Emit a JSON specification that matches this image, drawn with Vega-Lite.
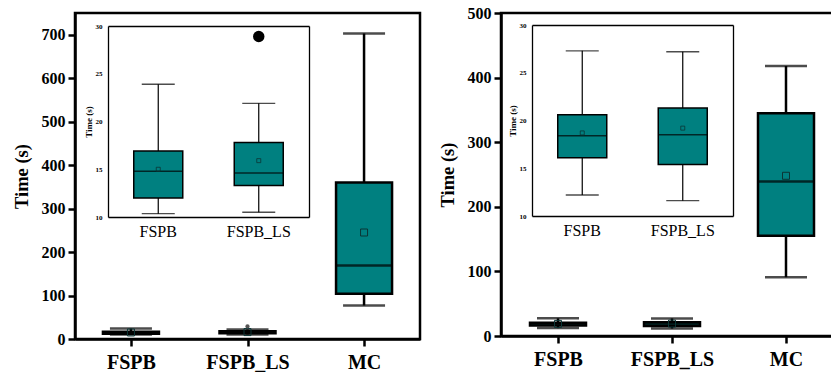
{
  "$schema": "https://vega.github.io/schema/vega-lite/v6.json",
  "background": "white",
  "padding": {"left": 10, "top": 3, "right": 0, "bottom": 0},
  "bounds": "flush",
  "spacing": 81,
  "config": {
    "view": {"stroke": "black", "strokeWidth": 2.5},
    "axis": {"grid": false, "labelColor": "black", "titleColor": "black", "domainColor": "black", "tickColor": "black", "labelFont": "Liberation Serif", "titleFont": "Liberation Serif"},
    "style": {"guide-label": {"font": "Liberation Serif", "fill": "black"}, "guide-title": {"font": "Liberation Serif", "fill": "black"}}
  },
  "datasets": {
    "left": [
      {"method": "FSPB", "min": 10.35, "q1": 12.0, "median": 14.8, "q3": 16.9, "max": 23.9, "mean": 15.0},
      {"method": "FSPB_LS", "min": 10.5, "q1": 13.3, "median": 14.6, "q3": 17.8, "max": 21.9, "mean": 15.9},
      {"method": "MC", "min": 77, "q1": 104, "median": 169, "q3": 360, "max": 703, "mean": 245}
    ],
    "leftOut": [
      {"method": "FSPB_LS", "value": 28.9}
    ],
    "right": [
      {"method": "FSPB", "min": 12.2, "q1": 16.1, "median": 18.4, "q3": 20.6, "max": 27.3, "mean": 18.7},
      {"method": "FSPB_LS", "min": 11.6, "q1": 15.4, "median": 18.5, "q3": 21.3, "max": 27.2, "mean": 19.2},
      {"method": "MC", "min": 91, "q1": 155, "median": 239, "q3": 345, "max": 418, "mean": 248}
    ]
  },
  "hconcat": [
    {
      "width": 345,
      "height": 326,
      "layer": [
        {
          "data": {"name": "left"},
          "layer": [
            {
              "mark": {"type": "rule", "color": "black", "strokeWidth": 2.5},
              "encoding": {
                "x": {"field": "method", "type": "nominal", "scale": {"type": "point", "padding": 0.48, "domain": ["FSPB", "FSPB_LS", "MC"]},
                  "axis": {"title": null, "labelAngle": 0, "labelFont": "Liberation Serif", "labelFontWeight": "bold", "labelFontSize": 20, "labelPadding": 6, "tickSize": 7, "tickWidth": 2.5, "domainWidth": 2.5}},
                "y": {"field": "min", "type": "quantitative", "title": "Time (s)", "scale": {"domain": [0, 750], "nice": false},
                  "axis": {"values": [0, 100, 200, 300, 400, 500, 600, 700], "labelFont": "Liberation Serif", "labelFontWeight": "bold", "labelFontSize": 16, "labelPadding": 3, "tickSize": 7, "tickWidth": 2.5, "domainWidth": 2.5, "titleFont": "Liberation Serif", "titleFontSize": 18.5, "titleFontWeight": "bold", "titlePadding": 10, "labelFlush": false, "labelOverlap": false}},
                "y2": {"field": "max"}
              }
            },
            {
              "mark": {"type": "tick", "color": "black", "size": 42, "thickness": 2.5},
              "encoding": {"x": {"field": "method", "type": "nominal"}, "y": {"field": "min", "type": "quantitative", "title": "Time (s)"}}
            },
            {
              "mark": {"type": "tick", "color": "black", "size": 42, "thickness": 2.5},
              "encoding": {"x": {"field": "method", "type": "nominal"}, "y": {"field": "max", "type": "quantitative", "title": "Time (s)"}}
            },
            {
              "mark": {"type": "bar", "fill": "#008080", "stroke": "black", "strokeWidth": 2.5, "size": 56},
              "encoding": {"x": {"field": "method", "type": "nominal"}, "y": {"field": "q1", "type": "quantitative", "title": "Time (s)"}, "y2": {"field": "q3"}}
            },
            {
              "mark": {"type": "tick", "color": "black", "size": 56, "thickness": 2.5},
              "encoding": {"x": {"field": "method", "type": "nominal"}, "y": {"field": "median", "type": "quantitative", "title": "Time (s)"}}
            },
            {
              "mark": {"type": "point", "shape": "square", "filled": false, "size": 49, "stroke": "#0b3535", "strokeWidth": 1, "opacity": 1},
              "encoding": {"x": {"field": "method", "type": "nominal"}, "y": {"field": "mean", "type": "quantitative", "title": "Time (s)"}}
            },
            {
              "data": {"name": "leftOut"},
              "mark": {"type": "point", "shape": "circle", "filled": true, "size": 18, "color": "#555555", "opacity": 1},
              "encoding": {"x": {"field": "method", "type": "nominal"}, "y": {"field": "value", "type": "quantitative", "title": "Time (s)"}}
            }
          ]
        },
        {
          "data": {"name": "left"},
          "transform": [{"filter": "datum.method !== 'MC'"}],
          "resolve": {"axis": {"x": "independent", "y": "independent"}},
          "layer": [
            {
              "mark": {"type": "rule", "color": "black", "strokeWidth": 1.2},
              "encoding": {
                "x": {"field": "method", "type": "nominal", "scale": {"type": "band", "domain": ["FSPB", "FSPB_LS"], "range": [33, 234], "paddingInner": 0, "paddingOuter": 0},
                  "axis": {"orient": "bottom", "offset": -122, "title": null, "ticks": false, "labelAngle": 0, "labelFont": "Liberation Serif", "labelFontSize": 16, "labelFontWeight": "normal", "labelPadding": 6, "domainWidth": 1.3}},
                "y": {"field": "min", "type": "quantitative", "scale": {"domain": [10, 30], "range": [204, 13], "nice": false, "zero": false},
                  "axis": {"orient": "left", "offset": -33, "title": "Time (s)", "values": [10, 15, 20, 25, 30], "ticks": false, "labelFont": "Liberation Serif", "labelFontSize": 7, "labelFontWeight": "bold", "labelPadding": 6, "titleFont": "Liberation Serif", "titleFontSize": 9, "titleFontWeight": "bold", "titlePadding": 2, "domainWidth": 1.3, "labelFlush": false, "labelOverlap": false}},
                "y2": {"field": "max"}
              }
            },
            {
              "mark": {"type": "tick", "color": "black", "size": 33, "thickness": 1.3},
              "encoding": {
                "x": {"field": "method", "type": "nominal", "axis": {"orient": "top", "offset": -13, "title": null, "labels": false, "ticks": false, "domainWidth": 1.3}},
                "y": {"field": "min", "type": "quantitative", "axis": {"orient": "right", "offset": -111, "title": null, "labels": false, "ticks": false, "domainWidth": 1.3}}
              }
            },
            {
              "mark": {"type": "tick", "color": "black", "size": 33, "thickness": 1.3},
              "encoding": {"x": {"field": "method", "type": "nominal", "axis": null}, "y": {"field": "max", "type": "quantitative", "axis": null}}
            },
            {
              "mark": {"type": "bar", "fill": "#008080", "stroke": "black", "strokeWidth": 1.5, "size": 49},
              "encoding": {"x": {"field": "method", "type": "nominal", "axis": null}, "y": {"field": "q1", "type": "quantitative", "axis": null}, "y2": {"field": "q3"}}
            },
            {
              "mark": {"type": "tick", "color": "black", "size": 49, "thickness": 1.5},
              "encoding": {"x": {"field": "method", "type": "nominal", "axis": null}, "y": {"field": "median", "type": "quantitative", "axis": null}}
            },
            {
              "mark": {"type": "point", "shape": "square", "filled": false, "size": 16, "stroke": "#0b3535", "strokeWidth": 0.8, "opacity": 1},
              "encoding": {"x": {"field": "method", "type": "nominal", "axis": null}, "y": {"field": "mean", "type": "quantitative", "axis": null}}
            },
            {
              "data": {"name": "leftOut"},
              "mark": {"type": "point", "shape": "circle", "filled": true, "size": 130, "color": "black", "opacity": 1},
              "encoding": {"x": {"field": "method", "type": "nominal", "axis": null}, "y": {"field": "value", "type": "quantitative", "axis": null}}
            }
          ]
        }
      ],
      "resolve": {"scale": {"x": "independent", "y": "independent"}}
    },
    {
      "width": 342,
      "height": 323,
      "layer": [
        {
          "data": {"name": "right"},
          "layer": [
            {
              "mark": {"type": "rule", "color": "black", "strokeWidth": 2.5},
              "encoding": {
                "x": {"field": "method", "type": "nominal", "scale": {"type": "point", "padding": 0.5, "domain": ["FSPB", "FSPB_LS", "MC"]},
                  "axis": {"title": null, "labelAngle": 0, "labelFont": "Liberation Serif", "labelFontWeight": "bold", "labelFontSize": 20, "labelPadding": 6, "tickSize": 7, "tickWidth": 2.5, "domainWidth": 2.5}},
                "y": {"field": "min", "type": "quantitative", "title": "Time (s)", "scale": {"domain": [0, 500], "nice": false},
                  "axis": {"values": [0, 100, 200, 300, 400, 500], "labelFont": "Liberation Serif", "labelFontWeight": "bold", "labelFontSize": 16, "labelPadding": 3, "tickSize": 7, "tickWidth": 2.5, "domainWidth": 2.5, "titleFont": "Liberation Serif", "titleFontSize": 18.5, "titleFontWeight": "bold", "titlePadding": 10, "labelFlush": false, "labelOverlap": false}},
                "y2": {"field": "max"}
              }
            },
            {
              "mark": {"type": "tick", "color": "black", "size": 42, "thickness": 2.5},
              "encoding": {"x": {"field": "method", "type": "nominal"}, "y": {"field": "min", "type": "quantitative", "title": "Time (s)"}}
            },
            {
              "mark": {"type": "tick", "color": "black", "size": 42, "thickness": 2.5},
              "encoding": {"x": {"field": "method", "type": "nominal"}, "y": {"field": "max", "type": "quantitative", "title": "Time (s)"}}
            },
            {
              "mark": {"type": "bar", "fill": "#008080", "stroke": "black", "strokeWidth": 2.5, "size": 56},
              "encoding": {"x": {"field": "method", "type": "nominal"}, "y": {"field": "q1", "type": "quantitative", "title": "Time (s)"}, "y2": {"field": "q3"}}
            },
            {
              "mark": {"type": "tick", "color": "black", "size": 56, "thickness": 2.5},
              "encoding": {"x": {"field": "method", "type": "nominal"}, "y": {"field": "median", "type": "quantitative", "title": "Time (s)"}}
            },
            {
              "mark": {"type": "point", "shape": "square", "filled": false, "size": 49, "stroke": "#0b3535", "strokeWidth": 1, "opacity": 1},
              "encoding": {"x": {"field": "method", "type": "nominal"}, "y": {"field": "mean", "type": "quantitative", "title": "Time (s)"}}
            }
          ]
        },
        {
          "data": {"name": "right"},
          "transform": [{"filter": "datum.method !== 'MC'"}],
          "resolve": {"axis": {"x": "independent", "y": "independent"}},
          "layer": [
            {
              "mark": {"type": "rule", "color": "black", "strokeWidth": 1.2},
              "encoding": {
                "x": {"field": "method", "type": "nominal", "scale": {"type": "band", "domain": ["FSPB", "FSPB_LS"], "range": [31, 232], "paddingInner": 0, "paddingOuter": 0},
                  "axis": {"orient": "bottom", "offset": -120, "title": null, "ticks": false, "labelAngle": 0, "labelFont": "Liberation Serif", "labelFontSize": 16, "labelFontWeight": "normal", "labelPadding": 6, "domainWidth": 1.3}},
                "y": {"field": "min", "type": "quantitative", "scale": {"domain": [10, 30], "range": [203, 12], "nice": false, "zero": false},
                  "axis": {"orient": "left", "offset": -31, "title": "Time (s)", "values": [10, 15, 20, 25, 30], "ticks": false, "labelFont": "Liberation Serif", "labelFontSize": 7, "labelFontWeight": "bold", "labelPadding": 6, "titleFont": "Liberation Serif", "titleFontSize": 9, "titleFontWeight": "bold", "titlePadding": 2, "domainWidth": 1.3, "labelFlush": false, "labelOverlap": false}},
                "y2": {"field": "max"}
              }
            },
            {
              "mark": {"type": "tick", "color": "black", "size": 33, "thickness": 1.3},
              "encoding": {
                "x": {"field": "method", "type": "nominal", "axis": {"orient": "top", "offset": -12, "title": null, "labels": false, "ticks": false, "domainWidth": 1.3}},
                "y": {"field": "min", "type": "quantitative", "axis": {"orient": "right", "offset": -110, "title": null, "labels": false, "ticks": false, "domainWidth": 1.3}}
              }
            },
            {
              "mark": {"type": "tick", "color": "black", "size": 33, "thickness": 1.3},
              "encoding": {"x": {"field": "method", "type": "nominal", "axis": null}, "y": {"field": "max", "type": "quantitative", "axis": null}}
            },
            {
              "mark": {"type": "bar", "fill": "#008080", "stroke": "black", "strokeWidth": 1.5, "size": 49},
              "encoding": {"x": {"field": "method", "type": "nominal", "axis": null}, "y": {"field": "q1", "type": "quantitative", "axis": null}, "y2": {"field": "q3"}}
            },
            {
              "mark": {"type": "tick", "color": "black", "size": 49, "thickness": 1.5},
              "encoding": {"x": {"field": "method", "type": "nominal", "axis": null}, "y": {"field": "median", "type": "quantitative", "axis": null}}
            },
            {
              "mark": {"type": "point", "shape": "square", "filled": false, "size": 16, "stroke": "#0b3535", "strokeWidth": 0.8, "opacity": 1},
              "encoding": {"x": {"field": "method", "type": "nominal", "axis": null}, "y": {"field": "mean", "type": "quantitative", "axis": null}}
            }
          ]
        }
      ],
      "resolve": {"scale": {"x": "independent", "y": "independent"}}
    }
  ]
}
